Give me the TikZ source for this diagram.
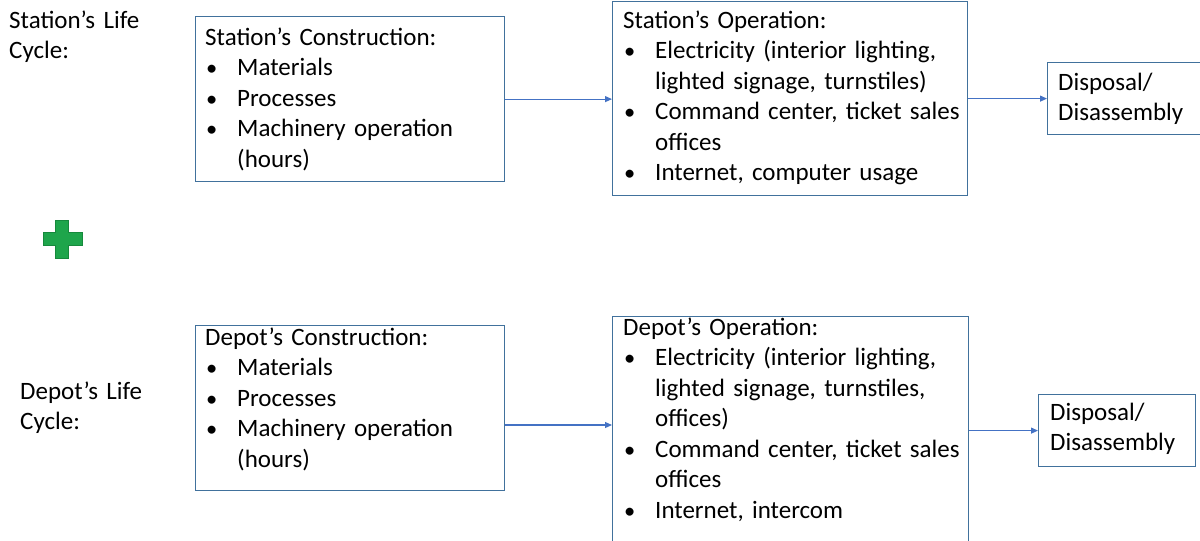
\documentclass[tikz,border=0pt]{standalone}
\usepackage{fontspec}
\setmainfont{Carlito}
\usetikzlibrary{arrows.meta,calc}

\definecolor{boxline}{HTML}{41719C}
\definecolor{arrowblue}{HTML}{4472C4}
\definecolor{plusgreen}{HTML}{1EA54B}
\definecolor{plusedge}{HTML}{16893C}

% body text: 25pt Carlito with slightly narrower word spaces
\newcommand\bodytext{\fontsize{25}{30.5}\selectfont\spaceskip=0.18em plus 0.05em\relax}
% bullet line, and a continuation line indented to the bullet text
\newcommand\bitem[1]{\par\noindent\makebox[32pt][l]{\hspace*{1pt}\scalebox{0.9}{\textbullet}}#1}
\newcommand\cont[1]{\par\noindent\hspace*{32pt}#1}

\tikzset{
  stagebox/.style={draw=boxline, line width=1.2pt, fill=white, inner sep=0pt, anchor=north west},
  txt/.style={anchor=base west, inner sep=0pt, align=left, text width=#1, font=\bodytext},
  flow/.style={draw=arrowblue, line width=1.1pt, -{Triangle[length=7pt,width=6pt]}}
}

\begin{document}
\begin{tikzpicture}[x=1pt, y=-1pt]
\useasboundingbox (0,0) rectangle (1200,541);

% row labels
\node[txt=180pt] (lblS) at (9,28) {Station’s Life\\Cycle:};
\node[txt=180pt] (lblD) at (20,399) {Depot’s Life\\Cycle:};

% station life cycle
\node[stagebox, minimum width=309pt, minimum height=165pt] (sc) at (195,16) {};
\node[stagebox, minimum width=355pt, minimum height=194pt] (so) at (612,1) {};
\node[stagebox, minimum width=175pt, minimum height=72pt] (sd) at (1047,62) {};

\node[txt=300pt] (scT) at (205,45) {Station’s Construction:
  \bitem{Materials}
  \bitem{Processes}
  \bitem{Machinery operation}
  \cont{(hours)}};
\node[txt=345pt] (soT) at (623,28) {Station’s Operation:
  \bitem{Electricity (interior lighting,}
  \cont{lighted signage, turnstiles)}
  \bitem{Command center, ticket sales}
  \cont{offices}
  \bitem{Internet, computer usage}};
\node[txt=150pt] (sdT) at (1058,90) {Disposal/\\Disassembly};

\draw[flow] (sc.east) -- (so.west |- sc.east);
\draw[flow] (so.east |- sd.west) -- (sd.west);

% plus sign between the two cycles
\fill[plusgreen, draw=plusedge, line width=0.6pt]
  (55.5,220) -- (68.5,220) -- (68.5,232.5) -- (82,232.5) -- (82,245.5) -- (68.5,245.5)
  -- (68.5,258) -- (55.5,258) -- (55.5,245.5) -- (43,245.5) -- (43,232.5) -- (55.5,232.5) -- cycle;

% depot life cycle
\node[stagebox, minimum width=309pt, minimum height=165pt] (dc) at (195,325) {};
\node[stagebox, minimum width=356pt, minimum height=240pt] (do) at (612,316) {};
\node[stagebox, minimum width=157pt, minimum height=72pt] (dd) at (1038,394) {};

\node[txt=300pt] (dcT) at (205,345) {Depot’s Construction:
  \bitem{Materials}
  \bitem{Processes}
  \bitem{Machinery operation}
  \cont{(hours)}};
\node[txt=345pt] (doT) at (623,335) {Depot’s Operation:
  \bitem{Electricity (interior lighting,}
  \cont{lighted signage, turnstiles,}
  \cont{offices)}
  \bitem{Command center, ticket sales}
  \cont{offices}
  \bitem{Internet, intercom}};
\node[txt=150pt] (ddT) at (1050,420) {Disposal/\\Disassembly};

\coordinate (dline) at (0,425);
\draw[flow] (dc.east |- dline) -- (do.west |- dline);
\draw[flow] (do.east |- dd.west) -- (dd.west);
\end{tikzpicture}
\end{document}
